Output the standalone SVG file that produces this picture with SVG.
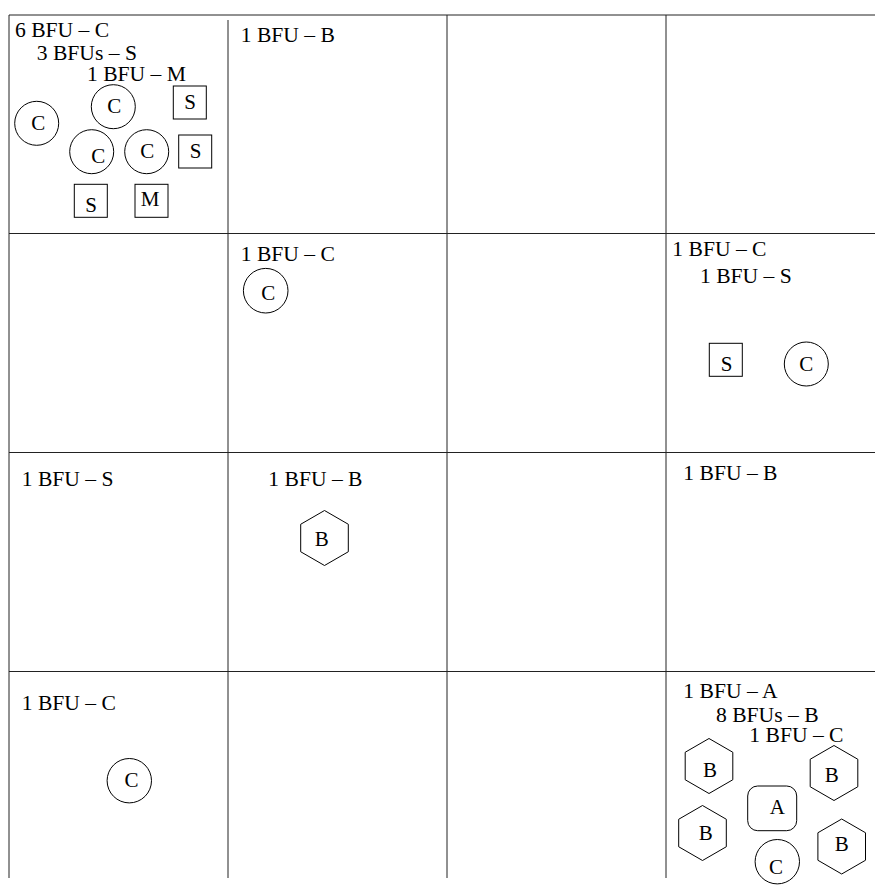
<svg xmlns="http://www.w3.org/2000/svg" xmlns:xlink="http://www.w3.org/1999/xlink" width="875" height="887" viewBox="0 0 875 887">
<style>
.grid{stroke:#222;stroke-width:1;fill:none}
.sh{stroke:#000;stroke-width:1;fill:#fff}
text{font-family:"Liberation Serif","Times New Roman",serif;font-size:21.6px;fill:#000}
.c{text-anchor:middle;font-size:21px}
</style>
<defs>
<polygon id="hex" points="0,-27.5 23.8,-13.75 23.8,13.75 0,27.5 -23.8,13.75 -23.8,-13.75"/>
</defs>
<rect width="875" height="887" fill="#fff"/>
<g id="grid" class="grid">
<line x1="9" y1="15" x2="875" y2="15"/>
<line x1="9" y1="233.5" x2="875" y2="233.5"/>
<line x1="9" y1="452.5" x2="875" y2="452.5"/>
<line x1="9" y1="671.5" x2="875" y2="671.5"/>
<line x1="9" y1="15" x2="9" y2="878"/>
<line x1="228" y1="20" x2="228" y2="878"/>
<line x1="447" y1="15" x2="447" y2="878"/>
<line x1="666" y1="15" x2="666" y2="878"/>
</g>
<g id="labels">
<text x="15" y="37">6 BFU – C</text>
<text x="36.7" y="59.5">3 BFUs – S</text>
<text x="87" y="81">1 BFU – M</text>
<text x="240.7" y="42.3">1 BFU – B</text>
<text x="240.7" y="261">1 BFU – C</text>
<text x="672.3" y="255.7">1 BFU – C</text>
<text x="700" y="283.3">1 BFU – S</text>
<text x="21.7" y="485.7">1 BFU – S</text>
<text x="268.3" y="485.7">1 BFU – B</text>
<text x="683.3" y="480">1 BFU – B</text>
<text x="21.7" y="710">1 BFU – C</text>
<text x="683.3" y="698.3">1 BFU – A</text>
<text x="716" y="721.7">8 BFUs – B</text>
<text x="749.3" y="741.7">1 BFU – C</text>
</g>
<g id="n-c1"><circle class="sh" cx="36.7" cy="123.3" r="22"/><text class="c" x="38.3" y="130.3">C</text></g>
<g id="n-c2"><circle class="sh" cx="113.3" cy="106.7" r="22"/><text class="c" x="114.3" y="113">C</text></g>
<g id="n-c3"><circle class="sh" cx="91.7" cy="151.7" r="22"/><text class="c" x="98.3" y="163">C</text></g>
<g id="n-c4"><circle class="sh" cx="146.7" cy="151.7" r="22"/><text class="c" x="147.3" y="157.7">C</text></g>
<g id="n-s1"><rect class="sh" x="173.3" y="86" width="33" height="33"/><text class="c" x="190" y="108.7">S</text></g>
<g id="n-s2"><rect class="sh" x="178.7" y="135" width="33" height="33"/><text class="c" x="195.7" y="157.7">S</text></g>
<g id="n-s3"><rect class="sh" x="74.3" y="184.3" width="33" height="33"/><text class="c" x="91" y="212">S</text></g>
<g id="n-m1"><rect class="sh" x="135" y="184.3" width="33" height="33"/><text class="c" x="150" y="206.3">M</text></g>
<g id="n-c5"><circle class="sh" cx="265.7" cy="290.7" r="22.3"/><text class="c" x="268.3" y="300.3">C</text></g>
<g id="n-s4"><rect class="sh" x="709.3" y="343.3" width="33" height="33"/><text class="c" x="726.7" y="371">S</text></g>
<g id="n-c6"><circle class="sh" cx="806.3" cy="364" r="22"/><text class="c" x="806.3" y="371">C</text></g>
<g id="n-h1"><use xlink:href="#hex" class="sh" x="324.5" y="538"/><text class="c" x="321.7" y="546.3">B</text></g>
<g id="n-c7"><circle class="sh" cx="129.3" cy="780.7" r="22.2"/><text class="c" x="131.5" y="787">C</text></g>
<g id="n-h2"><use xlink:href="#hex" class="sh" x="709" y="766"/><text class="c" x="710" y="777">B</text></g>
<g id="n-h3"><use xlink:href="#hex" class="sh" x="834" y="773"/><text class="c" x="831.7" y="782">B</text></g>
<g id="n-a1"><rect class="sh" x="747.7" y="786" width="49" height="44.7" rx="10"/><text class="c" x="777.3" y="813.7">A</text></g>
<g id="n-h4"><use xlink:href="#hex" class="sh" x="702.5" y="833"/><text class="c" x="705.7" y="839.7">B</text></g>
<g id="n-h5"><use xlink:href="#hex" class="sh" x="841.7" y="846.5"/><text class="c" x="841.7" y="851">B</text></g>
<g id="n-c8"><circle class="sh" cx="777.3" cy="861.7" r="22.2"/><text class="c" x="776" y="873.7">C</text></g>
</svg>
